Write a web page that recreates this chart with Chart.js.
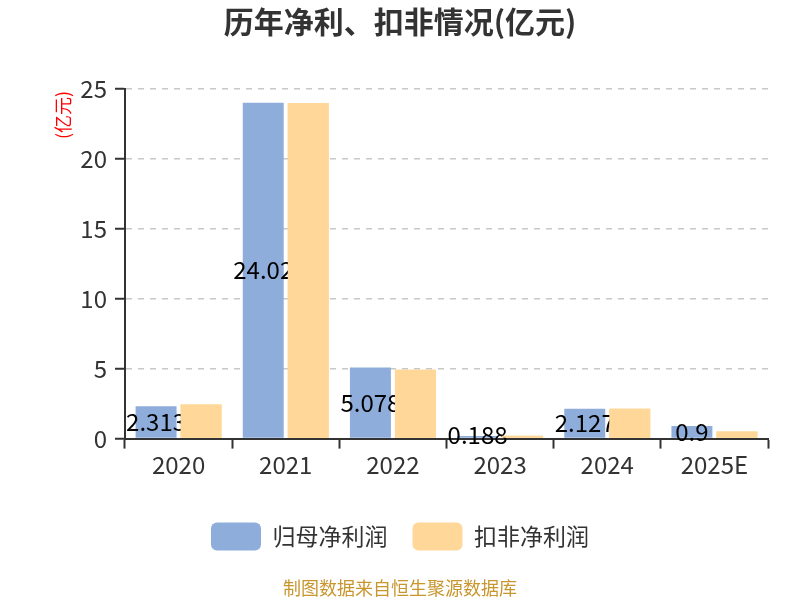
<!DOCTYPE html>
<html>
<head>
<meta charset="utf-8">
<script src="https://cdn.jsdelivr.net/npm/chart.js@4"></script>
<style>
  body { margin: 0; background: #fff; }
  #wrap { width: 800px; height: 600px; }
</style>
</head>
<body>
<div id="wrap"><canvas id="profitChart" width="800" height="600"></canvas></div>
<script>
// Chart data
const years = ['2020', '2021', '2022', '2023', '2024', '2025E'];
const netProfit = [2.313, 24.02, 5.078, 0.188, 2.127, 0.9];
const deductedProfit = [2.43, 24.0, 4.93, 0.2, 2.14, 0.5];
const netLabels = ['2.313', '24.02', '5.078', '0.188', '2.127', '0.9'];
const yTicks = [0, 5, 10, 15, 20, 25];

const FONT = '"Noto Sans CJK SC", "Noto Sans", sans-serif';

// draw value labels in the middle of the blue bars, then repaint orange bars on top
const barLabels = {
  id: 'barLabels',
  afterDatasetsDraw(chart) {
    const ctx = chart.ctx;
    const meta = chart.getDatasetMeta(0);
    ctx.save();
    ctx.font = '24px ' + FONT;
    ctx.fillStyle = '#000';
    ctx.textAlign = 'center';
    ctx.textBaseline = 'middle';
    meta.data.forEach((bar, i) => {
      const mid = (bar.y + bar.base) / 2;
      ctx.fillText(netLabels[i], bar.x, Math.min(mid, bar.base - 3));
    });
    ctx.restore();
    chart.getDatasetMeta(1).data.forEach(bar => bar.draw(ctx));
  }
};

// red unit label at top of the y axis
const unitLabel = {
  id: 'unitLabel',
  afterDraw(chart) {
    const ctx = chart.ctx;
    ctx.save();
    ctx.translate(63, 115);
    ctx.rotate(-Math.PI / 2);
    ctx.font = '18px ' + FONT;
    ctx.fillStyle = '#ff0000';
    ctx.textAlign = 'center';
    ctx.textBaseline = 'middle';
    ctx.fillText('(亿元)', 0, 0);
    ctx.restore();
  }
};

new Chart(document.getElementById('profitChart').getContext('2d'), {
  type: 'bar',
  data: {
    labels: years,
    datasets: [{
      label: '归母净利润',
      data: netProfit,
      backgroundColor: '#8eaddb',
      categoryPercentage: 0.84,
      barPercentage: 0.91
    }, {
      label: '扣非净利润',
      data: deductedProfit,
      backgroundColor: '#ffd899',
      categoryPercentage: 0.84,
      barPercentage: 0.91
    }]
  },
  options: {
    responsive: false,
    animation: false,
    layout: { padding: { left: 32, right: 32, top: 0, bottom: 0 } },
    plugins: {
      title: {
        display: true,
        text: '历年净利、扣非情况(亿元)',
        color: '#333',
        font: { family: FONT, size: 30, weight: 'bold' },
        padding: { top: 4, bottom: 49 }
      },
      subtitle: {
        display: true,
        position: 'bottom',
        text: '制图数据来自恒生聚源数据库',
        color: '#c8962e',
        font: { family: FONT, size: 18 },
        padding: { top: 17, bottom: 1 }
      },
      legend: {
        position: 'bottom',
        labels: {
          color: '#333',
          font: { family: FONT, size: 23 },
          boxWidth: 50,
          boxHeight: 28,
          useBorderRadius: true,
          borderRadius: 6,
          padding: 25
        }
      },
      tooltip: { enabled: false }
    },
    scales: {
      x: {
        afterFit(scale) {
          scale.height += 16;
        },
        grid: {
          drawOnChartArea: false,
          tickLength: 10,
          tickColor: '#333',
          tickWidth: 2
        },
        border: { color: '#333', width: 2 },
        ticks: {
          color: '#333',
          font: { family: FONT, size: 24 },
          padding: 2
        }
      },
      y: {
        min: 0,
        max: 25,
        afterBuildTicks(scale) {
          scale.ticks = yTicks.map(v => ({ value: v }));
        },
        afterFit(scale) {
          scale.width = 93;
        },
        grid: {
          color: '#c8c8c8',
          lineWidth: 1.5,
          tickLength: 10,
          tickColor: '#333',
          tickWidth: 2
        },
        border: { color: '#333', width: 2, dash: [6, 6] },
        ticks: {
          color: '#333',
          font: { family: FONT, size: 24 },
          padding: 8
        }
      }
    }
  },
  plugins: [barLabels, unitLabel]
});
</script>
</body>
</html>
